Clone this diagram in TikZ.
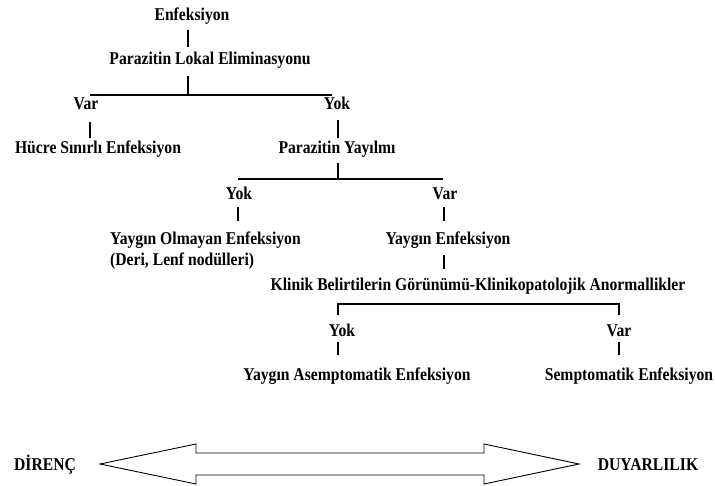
\documentclass[tikz,border=0pt]{standalone}
\usepackage{fontspec}
\setmainfont{Liberation Serif}
\newfontfamily\diagfont[FakeStretch=0.87]{Liberation Serif}
\begin{document}
\begin{tikzpicture}[x=1pt,y=-1pt,
  lbl/.style={inner sep=0pt,anchor=base,font=\diagfont\bfseries\fontsize{18}{22}\selectfont},
  lblw/.style={lbl,anchor=base west},
  conn/.style={line width=1.1pt,black},
  bigarrow/.style={line width=0.9pt,black}]
\useasboundingbox (0,0) rectangle (715,485);
% texts
\node[lbl] (enf) at (192,20) {Enfeksiyon};
\node[lbl] (ple) at (210,64) {Parazitin Lokal Eliminasyonu};
\node[lbl] (var1) at (86,109) {Var};
\node[lbl] (yok1) at (337,109) {Yok};
\node[lbl] (hsi) at (98,153) {Hücre Sınırlı Enfeksiyon};
\node[lbl] (py) at (337,153) {Parazitin Yayılmı};
\node[lbl] (yok2) at (239,199) {Yok};
\node[lbl] (var2) at (445,199) {Var};
\node[lblw] (yoe) at (110,244) {Yaygın Olmayan Enfeksiyon};
\node[lblw] (deri) at (110,265) {(Deri, Lenf nodülleri)};
\node[lbl] (ye) at (448,244) {Yaygın Enfeksiyon};
\node[lbl] (kb) at (478,290) {Klinik Belirtilerin Görünümü-Klinikopatolojik Anormallikler};
\node[lbl] (yok3) at (342,336) {Yok};
\node[lbl] (var3) at (619,336) {Var};
\node[lbl] (yae) at (357,380) {Yaygın Asemptomatik Enfeksiyon};
\node[lbl] (se) at (629,380) {Semptomatik Enfeksiyon};
\node[lbl] (dir) at (45,470) {DİRENÇ};
\node[lbl] (duy) at (648,470) {DUYARLILIK};
% junction coordinates
\coordinate (a1) at (188,30); \coordinate (a2) at (188,47);
\coordinate (b1) at (188,76); \coordinate (b2) at (188,95);
\coordinate (bl) at (90,95); \coordinate (br) at (332,95);
\coordinate (c1) at (90,122); \coordinate (c2) at (90,138);
\coordinate (d1) at (338,120); \coordinate (d2) at (338,138);
\coordinate (e1) at (338,163); \coordinate (e2) at (338,179);
\coordinate (el) at (238,179); \coordinate (er) at (443,179);
\coordinate (f1) at (238,207); \coordinate (f2) at (238,221);
\coordinate (g1) at (444,207); \coordinate (g2) at (444,221);
\coordinate (h1) at (444,255); \coordinate (h2) at (444,269);
\coordinate (il) at (338,315); \coordinate (ir) at (619,315);
\coordinate (j1) at (338,342); \coordinate (j2) at (338,355);
\coordinate (k1) at (619,342); \coordinate (k2) at (619,355);
% connectors
\draw[conn] (a1) -- (a2);
\draw[conn] (b1) -- (b2);
\draw[conn] (bl) -- (br);
\draw[conn] (c1) -- (c2);
\draw[conn] (d1) -- (d2);
\draw[conn] (e1) -- (e2);
\draw[conn] (el) -- (er);
\draw[conn] (f1) -- (f2);
\draw[conn] (g1) -- (g2);
\draw[conn] (h1) -- (h2);
\draw[conn] (il) |- (619,304) -- (ir);
\draw[conn] (j1) -- (j2);
\draw[conn] (k1) -- (k2);
% double arrow
\draw[bigarrow] (100,464) -- (196,444) -- (196,453) -- (484,453) -- (484,444)
  -- (579,464) -- (484,484) -- (484,475) -- (196,475) -- (196,484) -- cycle;
\end{tikzpicture}
\end{document}
